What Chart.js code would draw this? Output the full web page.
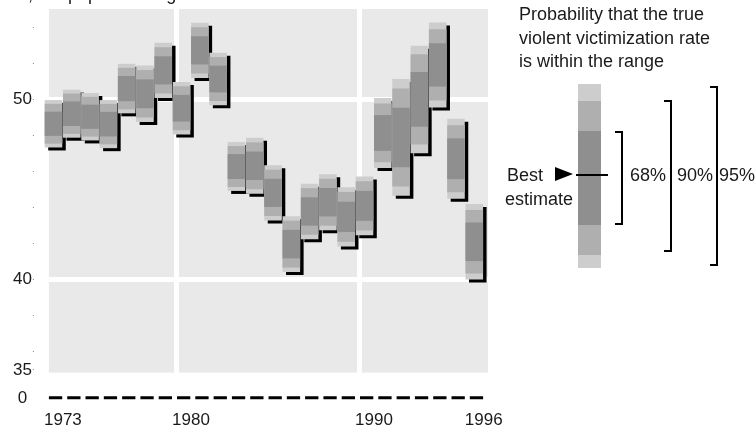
<!DOCTYPE html>
<html lang="en">
<head>
<meta charset="utf-8">
<title>Violent victimization rate, 1973-1996</title>
<script src="https://cdn.jsdelivr.net/npm/chart.js@4.4.1/dist/chart.umd.min.js"></script>
<style>
  html, body { margin: 0; padding: 0; background: #fff; }
  #frame { position: relative; width: 755px; height: 430px; overflow: hidden;
           font-family: "Liberation Sans", Arial, Helvetica, sans-serif; color: #1a1a1a; }
  #frame canvas { position: absolute; left: 0; top: 0; }
  .label { position: absolute; font-size: 18px; line-height: 20px; white-space: nowrap; }
  #legendBar { position: absolute; left: 578px; top: 84px; width: 23px; }
  #legendBar div { width: 23px; }
  .bracket { position: absolute; box-sizing: border-box; width: 8px;
             border: 2px solid #000; border-left: 0; }
  .arrow { position: absolute; left: 555px; top: 167px; width: 0; height: 0;
           border-left: 18px solid #000; border-top: 7.5px solid transparent;
           border-bottom: 7.5px solid transparent; }
  .estLine { position: absolute; left: 576px; top: 174px; width: 32px; height: 2px; background: #000; }
</style>
</head>
<body>
<div id="frame">
  <canvas id="chart" width="755" height="430"></canvas>

  <div class="label" style="left:-56px; top:-16px;">Rate per 1,000 population age 12 or older</div>

  <!-- legend -->
  <div class="label" style="left:519px; top:3px; line-height:23.5px;">Probability that the true<br>violent victimization rate<br>is within the range</div>
  <div id="legendBar"></div>
  <div class="arrow"></div>
  <div class="estLine"></div>
  <div class="label" style="left:507px; top:165px;">Best</div>
  <div class="label" style="left:505px; top:189px;">estimate</div>
  <div class="bracket" style="left:615px; top:131px; height:94px;"></div>
  <div class="bracket" style="left:664px; top:100px; height:152px;"></div>
  <div class="bracket" style="left:710px; top:86px; height:180px;"></div>
  <div class="label" style="left:630px; top:165px;">68%</div>
  <div class="label" style="left:677px; top:165px;">90%</div>
  <div class="label" style="left:719px; top:165px;">95%</div>
</div>

<script>
// ── Data: best estimate and standard error per year ───────────
const years = [1973, 1974, 1975, 1976, 1977, 1978, 1979, 1980, 1981, 1982, 1983, 1984,
               1985, 1986, 1987, 1988, 1989, 1990, 1991, 1992, 1993, 1994, 1995, 1996];
const estimates = [48.64, 49.20, 49.03, 48.62, 50.59, 50.30, 51.60, 49.50, 52.71, 51.12, 46.27, 46.31,
                   44.81, 41.97, 43.78, 44.29, 43.48, 44.09, 48.13, 47.88, 49.99, 51.90, 46.70, 42.10];
const stdErrors = [0.67, 0.68, 0.67, 0.68, 0.70, 0.80, 0.78, 0.74, 0.78, 0.74, 0.69, 0.79,
                   0.78, 0.79, 0.785, 0.79, 0.84, 0.83, 0.99, 1.65, 1.52, 1.20, 1.13, 1.07];

// ── Confidence bands (inner to outer) ─────────────────────────
const bandNames = ['68%', '90%', '95%'];
const bandZ = [1, 1.645, 1.96];
const bandColors = ['#8f8f8f', '#afafaf', '#cdcdcd'];

// ── Axis ticks ────────────────────────────────────────────────
const xTickYears = [1973, 1980, 1990, 1996];
const xGridYears = [1980, 1990];
const yLabelTicks = [35, 40, 50];
const yMinorTicks = [36, 38, 42, 44, 46, 48, 52, 54];
const yGridValues = [40, 50];
const zeroLabel = '0';

// Broken axis: the "0" row is drawn a little under the 35 floor
const plotFloor = 34.85;
const plotCeiling = 55;
const axisBreakAt = 33.45;
const barShift = 0.25;

const tickValue = c => (c && c.tick) ? c.tick.value : NaN;

// ── Legend bar, same shades as the chart ──────────────────────
const legendBar = document.getElementById('legendBar');
[[2, 17], [1, 30], [0, 94], [1, 30], [2, 13]].forEach(([b, h]) => {
    const seg = document.createElement('div');
    seg.style.height = h + 'px';
    seg.style.background = bandColors[b];
    legendBar.appendChild(seg);
});

// ── Plugins ───────────────────────────────────────────────────
const plotBackground = {
    id: 'plotBackground',
    beforeDraw(chart) {
        const { ctx, chartArea: a } = chart;
        ctx.save();
        ctx.fillStyle = '#e9e9e9';
        ctx.fillRect(a.left, a.top, a.width, a.height);
        ctx.restore();
    }
};

// hard black drop shadow under the outer (95%) band
const barShadow = {
    id: 'barShadow',
    beforeDatasetDraw(chart, args) {
        if (!chart.data.datasets[args.index].shadow) return;
        const ctx = chart.ctx;
        ctx.save();
        ctx.shadowColor = '#000';
        ctx.shadowBlur = 0;
        ctx.shadowOffsetX = 3.5;
        ctx.shadowOffsetY = 3;
    },
    afterDatasetDraw(chart, args) {
        if (chart.data.datasets[args.index].shadow) chart.ctx.restore();
    }
};

// ── Datasets ──────────────────────────────────────────────────
const bandDatasets = bandZ.map((z, b) => ({
    type: 'bar',
    label: bandNames[b],
    data: years.map((yr, i) => ({
        x: yr + barShift,
        y: [estimates[i] - z * stdErrors[i], estimates[i] + z * stdErrors[i]]
    })),
    backgroundColor: bandColors[b],
    grouped: false,
    barPercentage: 0.96,
    categoryPercentage: 1,
    clip: false,
    shadow: b === bandZ.length - 1
}));

const zeroLine = {
    type: 'line',
    label: 'zero',
    data: [{ x: xTickYears[0], y: axisBreakAt }, { x: 1997, y: axisBreakAt }],
    borderColor: '#000',
    borderWidth: 3,
    borderDash: [13.3, 5],
    pointRadius: 0,
    clip: false
};

Chart.defaults.font.family = '"Liberation Sans", Arial, Helvetica, sans-serif';
Chart.defaults.font.size = 17;
Chart.defaults.color = '#1a1a1a';

new Chart(document.getElementById('chart'), {
    type: 'bar',
    data: { datasets: [...bandDatasets, zeroLine] },
    options: {
        responsive: false,
        animation: false,
        layout: { padding: { left: 12, top: 9, right: 267, bottom: 0 } },
        plugins: { legend: { display: false }, tooltip: { enabled: false } },
        scales: {
            x: {
                type: 'linear',
                offset: false,
                min: xTickYears[0],
                max: 1997,
                afterBuildTicks: axis => { axis.ticks = xTickYears.map(v => ({ value: v })); },
                // padding only above the labels; labels may hang past the plot edges
                afterFit: axis => {
                    axis.height -= axis.options.ticks.padding + 1;
                    axis.paddingLeft = 0;
                    axis.paddingRight = 0;
                },
                ticks: { autoSkip: false, maxRotation: 0, padding: 38, labelOffset: 14,
                         callback: v => String(v) },
                grid: {
                    offset: false,
                    drawTicks: false,
                    lineWidth: 5,
                    color: c => xGridYears.includes(tickValue(c)) ? '#ffffff' : 'rgba(0,0,0,0)'
                },
                border: { display: false }
            },
            y: {
                min: plotFloor,
                max: plotCeiling,
                afterBuildTicks: axis => {
                    axis.ticks = [axisBreakAt, ...yLabelTicks, ...yMinorTicks]
                        .sort((a, b) => a - b).map(v => ({ value: v }));
                },
                afterFit: axis => { axis.paddingTop = 0; },
                ticks: {
                    autoSkip: false, padding: 1, crossAlign: 'center',
                    callback: v => v === axisBreakAt ? zeroLabel : (yLabelTicks.includes(v) ? String(v) : '')
                },
                grid: {
                    color: c => yGridValues.includes(tickValue(c)) ? '#ffffff' : 'rgba(0,0,0,0)',
                    lineWidth: c => yGridValues.includes(tickValue(c)) ? 5 : 1,
                    tickColor: c => tickValue(c) === axisBreakAt ? 'rgba(0,0,0,0)' : '#8a8a8a',
                    tickWidth: 1,
                    tickLength: 16,
                    tickBorderDash: [1, 40]
                },
                border: { display: false }
            }
        }
    },
    plugins: [plotBackground, barShadow]
});
</script>
</body>
</html>
